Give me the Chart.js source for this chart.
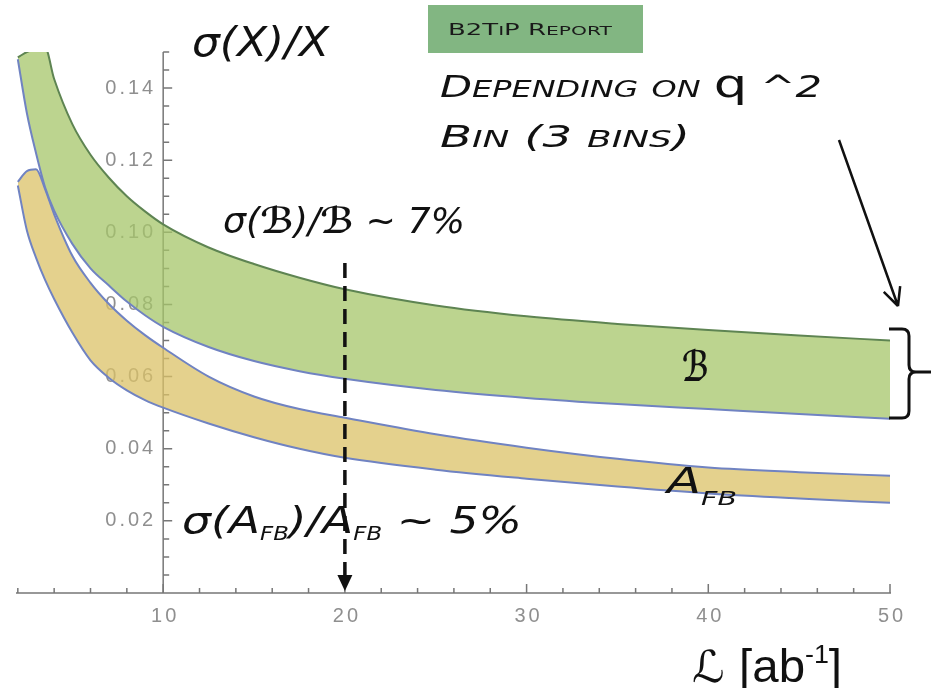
<!DOCTYPE html>
<html>
<head>
<meta charset="utf-8">
<script src="https://cdn.jsdelivr.net/npm/chart.js@4"></script>
<style>
  html, body { margin: 0; padding: 0; background: #fff; }
  #wrap { width: 931px; height: 688px; position: relative; }
</style>
</head>
<body>
<div id="wrap"><canvas id="chart"></canvas></div>
<script>
// Luminosity points (ab^-1) and band edges
const lumi    = [2, 2.5, 3, 3.5, 4, 5, 6, 7, 8, 9, 10, 12.5, 15, 17.5, 20, 25, 30, 35, 40, 45, 50];
const brHigh  = [0.1485, 0.1500, 0.1508, 0.1512, 0.1425, 0.1300, 0.1215, 0.1152, 0.1100, 0.1058, 0.1022, 0.0958, 0.0912, 0.0874, 0.0842, 0.0797, 0.0767, 0.0746, 0.0729, 0.0714, 0.0700];
const brLow   = [0.1480, 0.1330, 0.1220, 0.1125, 0.1060, 0.0968, 0.0900, 0.0853, 0.0808, 0.0770, 0.0738, 0.0682, 0.0643, 0.0615, 0.0594, 0.0563, 0.0541, 0.0524, 0.0510, 0.0496, 0.0483];
const afbHigh = [0.1140, 0.1170, 0.1175, 0.1120, 0.1050, 0.0935, 0.0860, 0.0802, 0.0755, 0.0715, 0.0680, 0.0600, 0.0545, 0.0510, 0.0486, 0.0440, 0.0403, 0.0372, 0.0348, 0.0335, 0.0325];
const afbLow  = [0.1130, 0.1005, 0.0930, 0.0868, 0.0815, 0.0722, 0.0645, 0.0597, 0.0562, 0.0535, 0.0514, 0.0470, 0.0432, 0.0400, 0.0375, 0.0342, 0.0317, 0.0295, 0.0276, 0.0262, 0.0250];

// Axis ticks
const xTickValues = [10, 20, 30, 40, 50];
const xTickLabels = ['10', '20', '30', '40', '50'];
const xMinorTicks = [2, 4, 6, 8, 12, 14, 16, 18, 22, 24, 26, 28, 32, 34, 36, 38, 42, 44, 46, 48];
const yTickValues = [0.02, 0.04, 0.06, 0.08, 0.10, 0.12, 0.14];
const yTickLabels = ['0.02', '0.04', '0.06', '0.08', '0.10', '0.12', '0.14'];
const yMinorTicks = [0.005, 0.01, 0.015, 0.025, 0.03, 0.035, 0.045, 0.05, 0.055, 0.065, 0.07, 0.075,
                     0.085, 0.09, 0.095, 0.105, 0.11, 0.115, 0.125, 0.13, 0.135, 0.145, 0.15];

const AXIS_CROSS_X = 10;   // Mathematica-style origin
const MARK_LUMI = 20;      // dashed arrow position

function pts(ys) {
    return lumi.map((x, i) => ({ x: x, y: ys[i] }));
}

// build a list of text pieces, lowercase letters turned into small capitals
function smallCaps(text, bigFont, smallFont) {
    const parts = [];
    for (const ch of text) {
        const isLower = ch !== ch.toUpperCase();
        const font = isLower ? smallFont : bigFont;
        const t = ch.toUpperCase();
        const last = parts[parts.length - 1];
        if (last && last.font === font) last.t += t;
        else parts.push({ t: t, font: font });
    }
    return parts;
}

// draw pieces in a row, squeezed/stretched to the given width
function fitText(ctx, parts, x, baseline, width) {
    let total = 0;
    parts.forEach(p => {
        ctx.font = p.font;
        p.w = ctx.measureText(p.t).width;
        total += p.w;
    });
    ctx.save();
    ctx.translate(x, baseline);
    ctx.scale(width / total, 1);
    let cx = 0;
    parts.forEach(p => {
        ctx.font = p.font;
        ctx.fillText(p.t, cx, p.dy || 0);
        cx += p.w;
    });
    ctx.restore();
}

const axesPlugin = {
    id: 'mmaAxes',
    beforeDatasetsDraw(chart) {
        const ctx = chart.ctx;
        const xs = chart.scales.x;
        const ys = chart.scales.y;
        const x0 = xs.getPixelForValue(AXIS_CROSS_X);
        const y0 = ys.getPixelForValue(0);

        ctx.save();
        ctx.strokeStyle = '#777';
        ctx.lineWidth = 1.5;
        ctx.beginPath();
        ctx.moveTo(chart.chartArea.left, y0);
        ctx.lineTo(xs.getPixelForValue(50) + 1, y0);
        ctx.moveTo(x0, y0);
        ctx.lineTo(x0, ys.getPixelForValue(0.15));
        ctx.stroke();

        ctx.beginPath();
        xTickValues.forEach(v => {
            const px = xs.getPixelForValue(v);
            ctx.moveTo(px, y0);
            ctx.lineTo(px, y0 - 9);
        });
        xMinorTicks.forEach(v => {
            const px = xs.getPixelForValue(v);
            ctx.moveTo(px, y0);
            ctx.lineTo(px, y0 - 5);
        });
        yTickValues.forEach(v => {
            const py = ys.getPixelForValue(v);
            ctx.moveTo(x0, py);
            ctx.lineTo(x0 + 9, py);
        });
        yMinorTicks.forEach(v => {
            const py = ys.getPixelForValue(v);
            ctx.moveTo(x0, py);
            ctx.lineTo(x0 + 6, py);
        });
        ctx.stroke();

        ctx.fillStyle = '#8f8f8f';
        ctx.font = '20px "Liberation Sans"';
        ctx.letterSpacing = '3px';
        ctx.textBaseline = 'middle';
        ctx.textAlign = 'right';
        yTickValues.forEach((v, i) => {
            ctx.fillText(yTickLabels[i], x0 - 7, ys.getPixelForValue(v));
        });
        ctx.textAlign = 'center';
        xTickValues.forEach((v, i) => {
            ctx.fillText(xTickLabels[i], xs.getPixelForValue(v) + 2, y0 + 23);
        });
        ctx.restore();
    }
};

const notesPlugin = {
    id: 'notes',
    afterDraw(chart) {
        const ctx = chart.ctx;
        const xs = chart.scales.x;
        const ys = chart.scales.y;
        ctx.save();
        ctx.fillStyle = '#111';
        ctx.strokeStyle = '#111';
        ctx.textAlign = 'left';
        ctx.textBaseline = 'alphabetic';

        const it = (s) => 'italic ' + s + 'px "DejaVu Sans"';
        const script = (s) => 'bold ' + s + 'px "DejaVu Sans"';

        // y axis title
        fitText(ctx, [{ t: 'σ(X)/X', font: it(40) }], 192, 56, 137);

        // report tag
        ctx.fillStyle = '#82b682';
        ctx.fillRect(428, 5, 215, 48);
        ctx.fillStyle = '#1a1a1a';
        fitText(ctx, smallCaps('B2TiP Report', '16px "DejaVu Sans"', '12.5px "DejaVu Sans"'), 448, 35, 164);

        // bin note
        ctx.fillStyle = '#111';
        const line1 = smallCaps('Depending on ', it(30), it(23));
        line1.push({ t: 'q', font: '38px "DejaVu Sans"' });
        line1.push({ t: ' ^2', font: it(30) });
        fitText(ctx, line1, 440, 97, 382);
        fitText(ctx, smallCaps('Bin (3 bins)', it(30), it(23)), 440, 147, 250);

        // branching ratio note
        fitText(ctx, [
            { t: 'σ(', font: it(36) },
            { t: 'ℬ', font: script(36) },
            { t: ')/', font: it(36) },
            { t: 'ℬ', font: script(36) },
            { t: ' ~ 7%', font: it(36) }
        ], 223, 233, 242);

        // forward-backward asymmetry note
        fitText(ctx, [
            { t: 'σ(A', font: it(38) },
            { t: 'FB', font: it(19), dy: 7 },
            { t: ')/A', font: it(38) },
            { t: 'FB', font: it(19), dy: 7 },
            { t: ' ~ 5%', font: it(38) }
        ], 182, 533, 340);

        // band labels
        fitText(ctx, [{ t: 'ℬ', font: script(42) }], 682, 381, 27);
        fitText(ctx, [
            { t: 'A', font: it(35) },
            { t: 'FB', font: it(20), dy: 12 }
        ], 667, 493, 70);

        // x axis title
        fitText(ctx, [
            { t: 'ℒ ', font: '44px "DejaVu Sans"' },
            { t: '[ab', font: '46px "Liberation Sans"' },
            { t: '-1', font: '26px "Liberation Sans"', dy: -19 },
            { t: ']', font: '46px "Liberation Sans"' }
        ], 692, 682, 150);

        // dashed arrow at L = 20
        const ax = xs.getPixelForValue(MARK_LUMI);
        const top = ys.getPixelForValue(0.0915);
        const tip = ys.getPixelForValue(0) - 2;
        ctx.lineWidth = 3.5;
        ctx.setLineDash([15, 8]);
        ctx.beginPath();
        ctx.moveTo(ax, top);
        ctx.lineTo(ax, tip - 14);
        ctx.stroke();
        ctx.setLineDash([]);
        ctx.beginPath();
        ctx.moveTo(ax - 7.5, tip - 16);
        ctx.lineTo(ax + 7.5, tip - 16);
        ctx.lineTo(ax, tip);
        ctx.closePath();
        ctx.fill();

        // arrow towards the bins
        ctx.lineWidth = 2.5;
        ctx.beginPath();
        ctx.moveTo(839, 140);
        ctx.lineTo(898, 306);
        const ang = Math.atan2(306 - 140, 898 - 839);
        [0.45, -0.45].forEach(d => {
            ctx.moveTo(898, 306);
            ctx.lineTo(898 - 20 * Math.cos(ang + d), 306 - 20 * Math.sin(ang + d));
        });
        ctx.stroke();

        // curly brace
        ctx.lineWidth = 3;
        ctx.beginPath();
        ctx.moveTo(889, 329);
        ctx.lineTo(902, 329);
        ctx.quadraticCurveTo(909, 329, 909, 336);
        ctx.lineTo(909, 365);
        ctx.quadraticCurveTo(909, 372, 916, 372);
        ctx.lineTo(931, 372);
        ctx.moveTo(916, 372);
        ctx.quadraticCurveTo(909, 372, 909, 379);
        ctx.lineTo(909, 411);
        ctx.quadraticCurveTo(909, 418, 902, 418);
        ctx.lineTo(889, 418);
        ctx.stroke();
        ctx.restore();
    }
};

const edgeBlue = '#7083c2';
const edgeGreen = '#5e8452';

const chart = new Chart(document.getElementById('chart'), {
    type: 'line',
    data: {
        datasets: [
            { label: 'B low', data: pts(brLow), borderColor: edgeBlue, fill: false },
            { label: 'B high', data: pts(brHigh), borderColor: edgeGreen, fill: '-1',
              backgroundColor: 'rgba(166, 198, 106, 0.75)' },
            { label: 'AFB low', data: pts(afbLow), borderColor: edgeBlue, fill: false },
            { label: 'AFB high', data: pts(afbHigh), borderColor: edgeBlue, fill: '-1',
              backgroundColor: 'rgba(219, 194, 103, 0.75)' }
        ]
    },
    options: {
        responsive: true,
        maintainAspectRatio: false,
        animation: false,
        layout: { padding: { left: 16, right: 41, top: 52, bottom: 95 } },
        elements: {
            point: { radius: 0 },
            line: { borderWidth: 2, cubicInterpolationMode: 'monotone' }
        },
        plugins: {
            legend: { display: false },
            tooltip: { enabled: false }
        },
        scales: {
            x: { type: 'linear', min: 1.9, max: 50, display: false },
            y: { type: 'linear', min: 0, max: 0.15, display: false }
        }
    },
    plugins: [axesPlugin, notesPlugin]
});
</script>
</body>
</html>
